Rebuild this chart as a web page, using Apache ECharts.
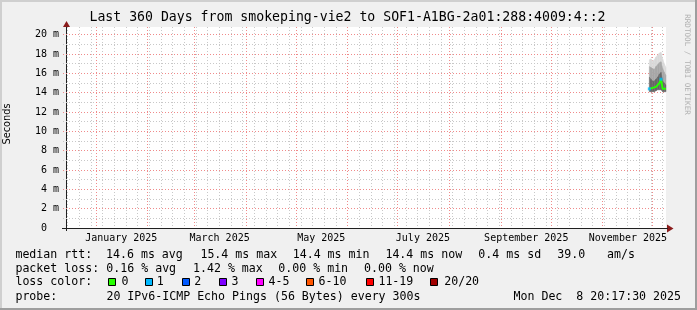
<!DOCTYPE html>
<html><head><meta charset="utf-8">
<script src="https://cdn.jsdelivr.net/npm/echarts@6/dist/echarts.min.js"></script>
<style>html,body{margin:0;padding:0;background:#f0f0f0;}#c{width:697px;height:310px;}</style>
</head><body><div id="c"></div>
<script>
// ---------------- data ----------------
const rangeStart = '2024-12-13 20:17:30';
const rangeEnd = '2025-12-08 20:17:30';
const sampleTimes = ['2025-11-28 20:00','2025-11-29 20:00','2025-11-30 20:00','2025-12-01 20:00','2025-12-02 20:00','2025-12-03 20:00','2025-12-04 20:00','2025-12-05 20:00','2025-12-06 20:00','2025-12-07 20:00','2025-12-08 20:00'];
const medianMs  = [14.4, 14.5, 14.5, 14.5, 14.6, 14.8, 15.0, 15.4, 14.4, 14.5, 14.4];
const lossCount = [1, 0, 0, 0, 0, 0, 0, 1, 0, 0, 0];
const smokeMin  = [14.1, 14.1, 14.1, 14.1, 14.2, 14.3, 14.3, 14.3, 14.1, 14.1, 14.1];
const smokeDark = [15.6, 15.4, 15.2, 15.2, 15.4, 15.6, 15.9, 16.1, 15.2, 15.0, 14.8];
const smokeMid  = [16.7, 16.6, 16.5, 16.4, 16.7, 16.9, 17.1, 17.2, 16.5, 16.1, 15.8];
const smokeMax  = [17.4, 17.5, 17.3, 17.4, 17.7, 17.9, 18.1, 18.2, 17.5, 17.0, 16.6];

const monthStarts = ['2025-01-01','2025-02-01','2025-03-01','2025-04-01','2025-05-01','2025-06-01','2025-07-01','2025-08-01','2025-09-01','2025-10-01','2025-11-01','2025-12-01'];
const firstWeekLine = '2024-12-15';
const monthLabelDates = ['2025-01-16','2025-03-16','2025-05-16','2025-07-16','2025-09-16','2025-11-16'];
const monthLabels = ['January 2025','March 2025','May 2025','July 2025','September 2025','November 2025'];
const yMajorValues = [2,4,6,8,10,12,14,16,18,20];
const yMinorValues = [1,3,5,7,9,11,13,15,17,19];
const yTickLabels = {0:'0  ',2:'2 m',4:'4 m',6:'6 m',8:'8 m',10:'10 m',12:'12 m',14:'14 m',16:'16 m',18:'18 m',20:'20 m'};
const yMax = 20.8;

const lossClassNames = ['0','1','2','3','4-5','6-10','11-19','20/20'];
const lossClassHigh  = [0, 1, 2, 3, 5, 10, 19, 20];
const lossColors = ['#26ff00','#00b8ff','#0059ff','#7e00ff','#ff00ff','#ff5500','#ff0000','#a10000'];

const titleText = 'Last 360 Days from smokeping-vie2 to SOF1-A1BG-2a01:288:4009:4::2';
const rttRow  = ['median rtt:','14.6 ms avg','15.4 ms max','14.4 ms min','14.4 ms now','0.4 ms sd','39.0','am/s'];
const lossRow = ['packet loss:','0.16 % avg','1.42 % max','0.00 % min','0.00 % now'];
const probeRow = ['probe:','20 IPv6-ICMP Echo Pings (56 Bytes) every 300s'];
const stampText = 'Mon Dec  8 20:17:30 2025';
const watermark = 'RRDTOOL / TOBI OETIKER';

// ---------------- helpers ----------------
function T(s){
  const p = s.split(' '); const d = p[0].split('-').map(Number);
  const t = (p[1]||'00:00:00').split(':').map(Number);
  return Date.UTC(d[0], d[1]-1, d[2], t[0]||0, t[1]||0, t[2]||0);
}
const tStart = T(rangeStart), tEnd = T(rangeEnd);
const DAY = 86400000;
const weekLines = [];
for (let t = T(firstWeekLine); t < tEnd; t += 7*DAY) weekLines.push(t);
const lossColor = n => { for (let i=0;i<lossClassHigh.length;i++) if (n <= lossClassHigh[i]) return lossColors[i]; return lossColors[lossColors.length-1]; };

const mono = "'DejaVu Sans Mono', monospace";
const times = sampleTimes.map(T);

function vLines(values, color, z){
  return { type:'custom', silent:true, z, clip:false, animation:false,
    data: values.map(v => [v, 0]), encode:{x:0, y:1},
    renderItem(params, api){
      const cs = params.coordSys;
      const x = Math.floor(api.coord([api.value(0), 0])[0]) + 0.5;
      return {type:'line', shape:{x1:x, y1:cs.y, x2:x, y2:cs.y+cs.height},
        style:{stroke:color, lineWidth:1, lineDash:[1,2]}};
    }};
}
function hLines(values, color, z){
  return { type:'custom', silent:true, z, clip:false, animation:false,
    data: values.map(v => [tStart, v]), encode:{x:0, y:1},
    renderItem(params, api){
      const cs = params.coordSys;
      const y = Math.floor(api.coord([tStart, api.value(1)])[1]) + 0.5;
      return {type:'line', shape:{x1:cs.x-3, y1:y, x2:cs.x+cs.width, y2:y},
        style:{stroke:color, lineWidth:1, lineDash:[1,2]}};
    }};
}
function smokeBand(lo, hi, color){
  return { type:'custom', silent:true, animation:false, z:3, clip:false,
    data: times.map((t,i)=>[t, lo[i], hi[i]]), encode:{x:0, y:[1,2]},
    renderItem(params, api){
      const i = params.dataIndex;
      if (i >= times.length-1) return null;
      const a = api.coord([api.value(0), api.value(1)]);
      const b = api.coord([api.value(0), api.value(2)]);
      const c = api.coord([times[i+1], hi[i+1]]);
      const d = api.coord([times[i+1], lo[i+1]]);
      return {type:'polygon', shape:{points:[a,b,c,d]}, style:{fill:color, stroke:color, lineWidth:0.5}};
    }};
}

const series = [
  vLines(weekLines, '#c8c8c8', 1),
  hLines(yMinorValues, '#c8c8c8', 1),
  vLines(monthStarts.map(T), '#f08a8a', 2),
  hLines(yMajorValues, '#f08a8a', 2),
  smokeBand(smokeMid, smokeMax, '#dadada'),
  smokeBand(smokeDark, smokeMid, '#a8a8a8'),
  smokeBand(smokeMin, smokeDark, '#686868'),
  { type:'line', symbol:'none', showSymbol:false, animation:false, z:5,
    data: times.map((t,i)=>[t, medianMs[i]]),
    lineStyle:{width:2, color:lossColors[0]} },
  { type:'scatter', symbol:'rect', symbolSize:[3,3], animation:false, z:6,
    data: times.map((t,i)=>[t, medianMs[i], lossCount[i]]).filter(d=>d[2]>0),
    itemStyle:{color: p => lossColor(p.value[2])} }
];

// ---------------- graphics ----------------
const g = [];
const txt = (x, y, text, extra) => g.push({type:'text', x, y, silent:true,
  style:Object.assign({text, fill:'#000', font:'11.6px '+mono, textVerticalAlign:'middle'}, extra||{})});
// frame
g.push({type:'rect', shape:{x:0,y:0,width:697,height:2}, style:{fill:'#cfcfcf'}, silent:true});
g.push({type:'rect', shape:{x:0,y:0,width:2,height:310}, style:{fill:'#cfcfcf'}, silent:true});
g.push({type:'rect', shape:{x:0,y:308,width:697,height:2}, style:{fill:'#9e9e9e'}, silent:true});
g.push({type:'rect', shape:{x:695,y:0,width:2,height:310}, style:{fill:'#9e9e9e'}, silent:true});
// arrows and axis extensions
g.push({type:'polygon', shape:{points:[[63,27],[66.5,21],[70,27]]}, style:{fill:'#8b1c1c'}, silent:true, z:20});
g.push({type:'polygon', shape:{points:[[667,224.5],[673.5,228.5],[667,232.5]]}, style:{fill:'#8b1c1c'}, silent:true, z:20});
g.push({type:'line', shape:{x1:62,y1:228.5,x2:67,y2:228.5}, style:{stroke:'#202020', lineWidth:1}, silent:true, z:20});
g.push({type:'line', shape:{x1:66.5,y1:226,x2:66.5,y2:231}, style:{stroke:'#202020', lineWidth:1}, silent:true, z:20});
g.push({type:'line', shape:{x1:664,y1:228.5,x2:668,y2:228.5}, style:{stroke:'#202020', lineWidth:1}, silent:true, z:20});
// title
txt(347.5, 18, titleText, {font:'13.2px '+mono, textAlign:'center'});
// y name
g.push({type:'text', x:7, y:124, rotation:Math.PI/2, silent:true,
  style:{text:'Seconds', font:"9.8px 'DejaVu Sans', sans-serif", fill:'#000', textAlign:'center', textVerticalAlign:'middle'}});
// watermark
g.push({type:'text', x:687, y:64.5, rotation:-Math.PI/2, silent:true,
  style:{text:watermark, font:'7.6px '+mono, fill:'#b0b0b0', textAlign:'center', textVerticalAlign:'middle'}});
// legend rows
const rttX = [15.4, 106, 200.4, 292.7, 385.4, 478.3, 557.3, 607];
rttRow.forEach((s,i)=>txt(rttX[i], 254.5, s));
const lossX = [15.4, 106.3, 193, 278.3, 364];
lossRow.forEach((s,i)=>txt(lossX[i], 268.5, s));
txt(15.4, 282, 'loss color:');
const boxX = [108, 145, 182, 219, 256, 306, 366, 430];
const boxLabelX = [121.5, 156.7, 194.2, 231.5, 268.6, 318.6, 378.4, 444.2];
lossClassNames.forEach((n,i)=>{
  g.push({type:'rect', shape:{x:boxX[i]+0.5, y:278.5, width:7, height:7}, style:{fill:lossColors[i], stroke:'#000', lineWidth:1}, silent:true});
  txt(boxLabelX[i], 282, n);
});
txt(15.4, 296.5, probeRow[0]);
txt(106.4, 296.5, probeRow[1]);
txt(681, 296.5, stampText, {textAlign:'right'});

const option = {
  backgroundColor:'#f0f0f0',
  animation:false,
  grid:{left:66, right:31, top:27, bottom:82, show:true, backgroundColor:'#ffffff', borderWidth:0, containLabel:false, outerBoundsMode:'none'},
  xAxis:{type:'value', min:tStart, max:tEnd,
    axisLine:{show:true, lineStyle:{color:'#202020', width:1}},
    axisTick:{show:false}, splitLine:{show:false},
    axisLabel:{show:true, customValues: monthLabelDates.map(T), margin:5, color:'#000', fontFamily:mono, fontSize:10,
      formatter: v => { const i = monthLabelDates.map(T).indexOf(v); return i>=0 ? monthLabels[i] : ''; } }},
  yAxis:{type:'value', min:0, max:yMax, interval:2,
    axisLine:{show:true, lineStyle:{color:'#202020', width:1}},
    axisTick:{show:false}, splitLine:{show:false},
    axisLabel:{margin:7, color:'#000', fontFamily:mono, fontSize:10, showMaxLabel:false,
      formatter: v => (yTickLabels[v] !== undefined ? yTickLabels[v] : '')}},
  series,
  graphic: g
};
const chart = echarts.init(document.getElementById('c'));
chart.setOption(option);
</script></body></html>
